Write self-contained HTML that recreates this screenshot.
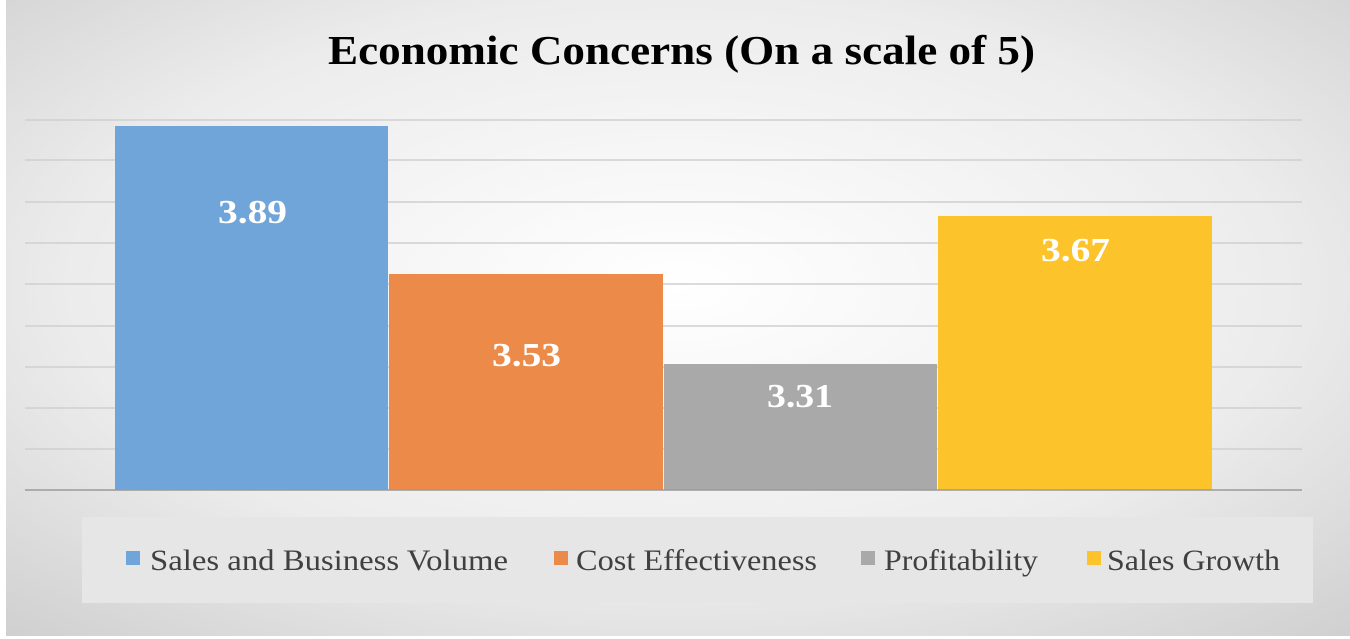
<!DOCTYPE html>
<html><head><style>
html,body{margin:0;padding:0;background:#fff;}
text{font-family:"Liberation Serif","DejaVu Serif","Times New Roman",serif;}
</style></head><body>
<svg width="1350" height="639" xmlns="http://www.w3.org/2000/svg" style="display:block">
<defs>
<radialGradient id="bg" cx="50%" cy="45%" r="75%">
<stop offset="0" stop-color="#ffffff"/>
<stop offset="0.6" stop-color="#ececec"/>
<stop offset="1" stop-color="#cfcfcf"/>
</radialGradient>
</defs>
<rect x="6" y="0" width="1344" height="636" fill="url(#bg)"/>
<g stroke="#cfcfcf" stroke-width="1.5">
<line x1="25" x2="1302" y1="120" y2="120"/>
<line x1="25" x2="1302" y1="160" y2="160"/>
<line x1="25" x2="1302" y1="202" y2="202"/>
<line x1="25" x2="1302" y1="243" y2="243"/>
<line x1="25" x2="1302" y1="284" y2="284"/>
<line x1="25" x2="1302" y1="326" y2="326"/>
<line x1="25" x2="1302" y1="367" y2="367"/>
<line x1="25" x2="1302" y1="408" y2="408"/>
<line x1="25" x2="1302" y1="449" y2="449"/>
</g>
<rect x="115" y="126" width="273" height="364" fill="#6fa5d8"/>
<rect x="389" y="274" width="274" height="216" fill="#ec8b49"/>
<rect x="664" y="364" width="273" height="126" fill="#a9a9a9"/>
<rect x="938" y="216" width="274" height="274" fill="#fcc42a"/>
<line x1="25" x2="1302" y1="490" y2="490" stroke="#9a9a9a" stroke-width="1.5"/>
<g font-weight="bold" font-size="34" fill="#fff">
<text x="218" y="223" textLength="69" lengthAdjust="spacingAndGlyphs">3.89</text>
<text x="492" y="366" textLength="69" lengthAdjust="spacingAndGlyphs">3.53</text>
<text x="767" y="407" textLength="66" lengthAdjust="spacingAndGlyphs">3.31</text>
<text x="1041" y="261" textLength="69" lengthAdjust="spacingAndGlyphs">3.67</text>
</g>
<text x="328" y="64" font-weight="bold" font-size="41" fill="#000" textLength="707" lengthAdjust="spacingAndGlyphs">Economic Concerns (On a scale of 5)</text>
<rect x="82" y="517" width="1231" height="86" fill="#e6e6e6"/>
<g font-size="30" fill="#404040">
<rect x="126" y="551" width="14" height="14" fill="#6fa5d8"/>
<text x="150" y="570" textLength="358" lengthAdjust="spacingAndGlyphs">Sales and Business Volume</text>
<rect x="554" y="551" width="14" height="14" fill="#ec8b49"/>
<text x="576" y="570" textLength="241" lengthAdjust="spacingAndGlyphs">Cost Effectiveness</text>
<rect x="861" y="551" width="14" height="14" fill="#a9a9a9"/>
<text x="884" y="570" textLength="154" lengthAdjust="spacingAndGlyphs">Profitability</text>
<rect x="1087" y="551" width="14" height="14" fill="#fcc42a"/>
<text x="1107" y="570" textLength="173" lengthAdjust="spacingAndGlyphs">Sales Growth</text>
</g>
</svg>
</body></html>
